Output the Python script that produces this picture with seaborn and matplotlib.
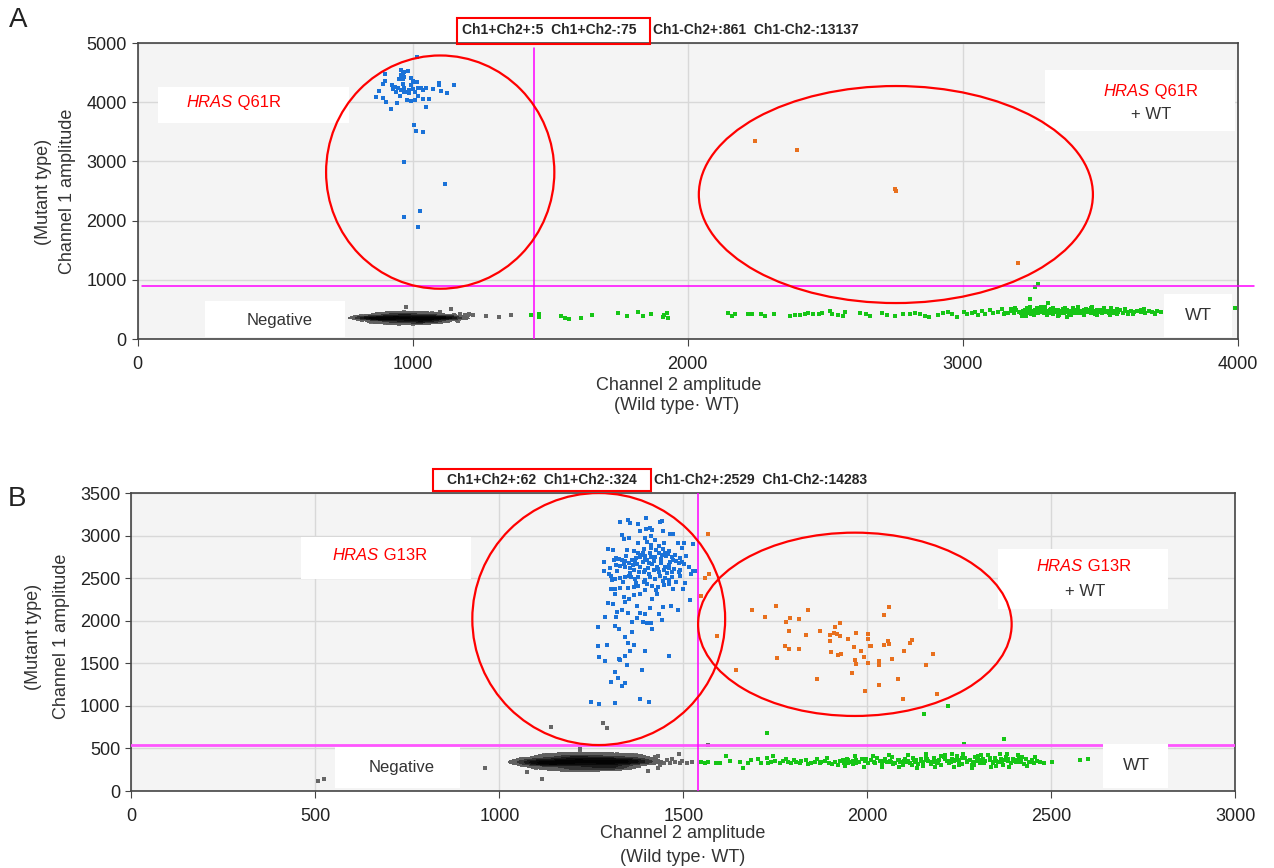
import numpy as np
import pandas as pd
import matplotlib
matplotlib.use("Agg")
import matplotlib.pyplot as plt
import seaborn as sns
from matplotlib.patches import Ellipse, Rectangle
from matplotlib.colors import LinearSegmentedColormap

sns.set_style("ticks")
plt.rcParams['font.family'] = ['Liberation Sans', 'DejaVu Sans']

# ---------------- panel A : HRAS Q61R  (channel 2 amplitude, channel 1 amplitude) ----------------
a_blue = [(1017, 4769), (958, 4544), (970, 4516), (982, 4532), (964, 4488), (900, 4471), (956, 4459),
          (970, 4431), (992, 4414), (949, 4392), (964, 4386), (1001, 4358), (1007, 4347), (1016, 4347),
          (898, 4364), (893, 4307), (924, 4291), (964, 4302), (995, 4296), (934, 4262), (946, 4246),
          (970, 4234), (928, 4223), (958, 4206), (988, 4206), (1001, 4217), (1019, 4234), (1031, 4246),
          (1049, 4246), (1073, 4217), (1097, 4319), (1094, 4291), (1149, 4291), (876, 4195), (940, 4178),
          (968, 4178), (980, 4166), (1007, 4178), (1037, 4206), (1103, 4189), (1125, 4150), (988, 4150),
          (952, 4105), (1019, 4110), (893, 4065), (865, 4082), (1007, 4037), (980, 4037), (992, 4026),
          (1037, 4054), (1061, 4048), (904, 4009), (944, 3992), (1050, 3924), (922, 3879),
          (1005, 3615), (1012, 3519), (1036, 3491), (967, 2984), (1119, 2618), (1026, 2162),
          (967, 2055), (1020, 1886)]
a_orange = [(2246, 3338), (2399, 3193), (2755, 2530), (2758, 2500), (3201, 1278)]
a_neg_core = [(905, 352), (918, 371), (931, 340), (944, 365), (957, 384), (970, 348), (983, 372),
              (996, 338), (1009, 360), (1022, 379), (1035, 345), (1048, 366), (1061, 331), (1074, 357),
              (888, 362), (876, 341), (864, 370), (852, 352), (840, 360), (829, 347), (818, 365),
              (806, 355), (897, 389), (922, 398), (948, 405), (975, 401), (1001, 396), (1027, 393),
              (1053, 388), (1080, 381), (1102, 372), (1118, 360), (1131, 349), (1144, 366), (1157, 354),
              (1168, 342), (1106, 339), (1089, 322), (1063, 311), (1037, 305), (1011, 301), (985, 306),
              (959, 309), (933, 315), (907, 322), (881, 330), (860, 324), (915, 290), (960, 283),
              (1010, 287), (1050, 296), (985, 423), (940, 430), (1040, 418), (1090, 410), (870, 400),
              (825, 385), (1125, 395), (1150, 385), (955, 330), (1000, 325), (1045, 332), (930, 358),
              (960, 362), (1015, 340), (1055, 350), (890, 345), (1095, 355),
              (900, 270), (950, 262), (1000, 258), (1050, 268), (1080, 280), (920, 445), (970, 452),
              (1020, 448), (1070, 440), (880, 430), (850, 290), (1110, 300)]
a_neg_edge = [(976, 546), (1140, 507), (1190, 406), (1203, 417), (1221, 411), (1266, 395), (1315, 378),
              (1358, 400), (1172, 430), (790, 372), (812, 392), (1130, 298), (1100, 450), (1180, 375),
              (1200, 398), (800, 340), (1160, 320), (815, 330), (835, 395), (1150, 410), (1165, 300)]
a_green = [(1430, 406), (1458, 378), (1461, 417), (1538, 395), (1554, 361), (1567, 344), (1613, 349),
           (1653, 406), (1746, 440), (1781, 389), (1821, 462), (1839, 395), (1867, 417), (1909, 378),
           (1914, 406), (1924, 445), (1930, 361), (2148, 440), (2160, 395), (2172, 417), (2221, 428),
           (2233, 428), (2266, 417), (2281, 383), (2315, 417),
           (2372, 394), (2391, 405), (2409, 405), (2427, 417), (2439, 434), (2457, 422), (2479, 417),
           (2488, 445), (2518, 473), (2524, 422), (2548, 405), (2566, 394), (2572, 450), (2627, 434),
           (2649, 417), (2663, 394), (2706, 445), (2724, 405), (2754, 394), (2784, 422), (2809, 417),
           (2827, 445), (2845, 417), (2863, 394), (2879, 377), (2912, 405), (2930, 434), (2948, 462),
           (2960, 417), (2978, 377), (3003, 450), (3015, 417), (3033, 434), (3045, 462), (3057, 405),
           (3069, 473), (3081, 417), (3100, 490), (3112, 434), (3130, 462), (3142, 500), (3154, 445),
           (3245, 676), (3309, 602), (3262, 885), (3275, 925), (3990, 518)]
a_green_dense = [(3165, 448), (3178, 470), (3186, 432), (3194, 485), (3203, 455), (3211, 440), (3219, 472),
                 (3226, 498), (3232, 451), (3240, 466), (3247, 428), (3253, 480), (3259, 459), (3266, 442),
                 (3272, 505), (3278, 470), (3284, 452), (3290, 488), (3296, 437), (3302, 463), (3308, 476),
                 (3313, 448), (3319, 495), (3324, 458), (3330, 431), (3336, 470), (3341, 483), (3347, 452),
                 (3352, 466), (3358, 440), (3363, 500), (3369, 474), (3374, 456), (3380, 489), (3385, 445),
                 (3391, 468), (3396, 478), (3402, 434), (3407, 461), (3413, 492), (3418, 450), (3424, 472),
                 (3429, 458), (3435, 441), (3440, 484), (3446, 466), (3451, 452), (3457, 497), (3462, 470),
                 (3468, 438), (3473, 459), (3479, 480), (3484, 446), (3490, 467), (3496, 455), (3502, 488),
                 (3508, 440), (3514, 471), (3520, 458), (3527, 450), (3534, 478), (3541, 462), (3548, 445),
                 (3556, 470), (3564, 455), (3573, 483), (3582, 448), (3591, 466), (3601, 458), (3612, 474),
                 (3623, 451), (3635, 469), (3648, 460), (3662, 447), (3676, 468), (3690, 456), (3705, 472),
                 (3720, 461), (3225, 462), (3238, 448), (3250, 471), (3262, 485), (3275, 445), (3287, 462),
                 (3299, 477), (3311, 440), (3322, 470), (3334, 455), (3345, 487), (3356, 460), (3367, 446),
                 (3378, 472), (3389, 457), (3400, 485), (3411, 470), (3422, 443), (3433, 463), (3444, 476),
                 (3455, 459), (3466, 449), (3477, 470), (3488, 484), (3499, 462), (3510, 452), (3521, 476),
                 (3532, 441), (3543, 482), (3555, 448), (3245, 458), (3268, 462), (3292, 450), (3315, 466),
                 (3339, 462), (3362, 456), (3386, 463), (3409, 448), (3432, 468), (3456, 463), (3479, 455),
                 (3503, 466), (3270, 522), (3320, 515), (3400, 520), (3450, 510), (3245, 540), (3480, 420),
                 (3350, 412), (3220, 418), (3600, 430), (3650, 490), (3700, 440), (3560, 505),
                 (3190, 520), (3215, 395), (3235, 530), (3260, 400), (3285, 535), (3305, 405), (3330, 525),
                 (3345, 395), (3372, 530), (3395, 405), (3420, 535), (3440, 400), (3465, 525), (3490, 410),
                 (3515, 520), (3535, 400), (3560, 415), (3590, 510), (3620, 420), (3660, 500), (3700, 415),
                 (3150, 420), (3175, 505), (3230, 385), (3300, 545), (3380, 380), (3470, 545), (3540, 530)]

# ---------------- panel B : HRAS G13R ----------------
b_blue = [(1399, 3211), (1349, 3183), (1327, 3156), (1356, 3144), (1376, 3132), (1437, 3156), (1442, 3171),
          (1410, 3093), (1383, 3054), (1399, 3073), (1444, 3054), (1416, 3066), (1464, 3015), (1471, 3015),
          (1332, 3007), (1351, 2976), (1338, 2960), (1413, 2995), (1397, 2976), (1401, 2929), (1377, 2917),
          (1424, 2948), (1446, 2909), (1413, 2889), (1433, 2882), (1485, 2909), (1503, 2917), (1526, 2905),
          (1295, 2839), (1309, 2831), (1347, 2831), (1413, 2850), (1392, 2839), (1444, 2839), (1496, 2850),
          (1284, 2694), (1311, 2713), (1320, 2721), (1326, 2729), (1333, 2713), (1342, 2702), (1360, 2713),
          (1369, 2694), (1378, 2792), (1383, 2752), (1387, 2772), (1397, 2733), (1401, 2713), (1406, 2674),
          (1410, 2792), (1413, 2745), (1419, 2705), (1433, 2792), (1442, 2772), (1449, 2792), (1452, 2760),
          (1458, 2780), (1464, 2694), (1473, 2713), (1478, 2772), (1487, 2682), (1496, 2694), (1507, 2760),
          (1503, 2666), (1514, 2635), (1317, 2655), (1329, 2643), (1342, 2635), (1351, 2674), (1356, 2615),
          (1365, 2596), (1374, 2666), (1383, 2635), (1392, 2576), (1397, 2596), (1406, 2549), (1419, 2596),
          (1428, 2635), (1433, 2576), (1446, 2596), (1451, 2635), (1460, 2615), (1469, 2576), (1487, 2576),
          (1491, 2596), (1527, 2588), (1532, 2588), (1284, 2588), (1297, 2549), (1302, 2525), (1306, 2478),
          (1315, 2486), (1329, 2498), (1342, 2518), (1351, 2525), (1359, 2510), (1369, 2486), (1378, 2518),
          (1392, 2459), (1397, 2478), (1410, 2510), (1424, 2486), (1437, 2525), (1449, 2498), (1460, 2478),
          (1469, 2518), (1491, 2525), (1521, 2549), (1304, 2369), (1315, 2369), (1329, 2381), (1350, 2381),
          (1365, 2392), (1378, 2408), (1397, 2361), (1415, 2408), (1425, 2361), (1431, 2392), (1446, 2420),
          (1460, 2431), (1473, 2369), (1499, 2369), (1505, 2447), (1315, 2310), (1338, 2283), (1351, 2251),
          (1365, 2302), (1383, 2314), (1342, 2224), (1415, 2251), (1428, 2310), (1517, 2244), (1295, 2204),
          (1309, 2193), (1374, 2173), (1410, 2146), (1444, 2165), (1467, 2173), (1485, 2126), (1320, 2107),
          (1332, 2126), (1350, 2087), (1381, 2087), (1433, 2079), (1317, 2048), (1286, 2048), (1374, 2028),
          (1397, 2079), (1360, 1989), (1390, 1981), (1401, 1977), (1413, 1977), (1442, 2009), (1313, 1938),
          (1326, 1907), (1415, 1899), (1267, 1923), (1360, 1864), (1342, 1813), (1350, 1742), (1365, 1719),
          (1293, 1711), (1267, 1703), (1397, 1641), (1356, 1641), (1342, 1586), (1324, 1547), (1328, 1535),
          (1270, 1570), (1288, 1527), (1460, 1582), (1347, 1480), (1313, 1402), (1387, 1417), (1322, 1324),
          (1302, 1280), (1333, 1233), (1341, 1269), (1383, 1085), (1406, 1049), (1248, 1046), (1272, 1018),
          (1313, 1034), (1318, 2740), (1345, 2755), (1372, 2735), (1395, 2760), (1422, 2745), (1440, 2730),
          (1468, 2748), (1490, 2740), (1338, 2668), (1362, 2650), (1389, 2690), (1415, 2662), (1440, 2680),
          (1462, 2655), (1480, 2700), (1355, 2560), (1380, 2570), (1405, 2620), (1430, 2605), (1455, 2560),
          (1475, 2610), (1320, 2580), (1335, 2455), (1370, 2440), (1400, 2430), (1445, 2470), (1480, 2450),
          (1300, 2620), (1390, 2800), (1425, 2825), (1460, 2820), (1365, 2820)]
b_orange = [(1566, 3018), (1570, 2548), (1558, 2505), (1547, 2290), (1591, 1820), (1644, 1421), (1687, 2129),
            (1722, 2047), (1752, 2169), (1840, 2129), (1791, 2035), (1815, 2020), (1778, 1985), (1787, 1883),
            (1834, 1836), (1872, 1875), (1911, 1930), (1926, 1973), (1899, 1836), (1909, 1851), (1918, 1840),
            (1926, 1820), (1946, 1785), (1970, 1851), (2003, 1844), (2003, 1781), (1898, 1757), (1775, 1703),
            (1787, 1667), (1815, 1667), (1754, 1562), (1902, 1628), (1921, 1597), (1929, 1613), (1964, 1695),
            (1983, 1648), (2006, 1703), (2011, 1703), (2046, 1718), (2057, 1757), (2059, 1726), (2046, 2067),
            (2059, 2157), (1990, 1577), (1966, 1538), (1970, 1495), (2001, 1503), (2031, 1527), (2031, 1483),
            (2066, 1550), (2100, 1640), (2117, 1738), (2122, 1777), (2177, 1613), (2159, 1480), (1863, 1311),
            (1959, 1382), (1994, 1178), (2031, 1241), (2082, 1311), (2096, 1084), (2189, 1135)]
b_neg_core = [(1150, 335), (1163, 352), (1176, 318), (1189, 345), (1202, 368), (1215, 330), (1228, 355),
              (1241, 322), (1254, 348), (1267, 365), (1280, 330), (1293, 352), (1306, 318), (1319, 343),
              (1332, 360), (1345, 328), (1137, 348), (1124, 325), (1111, 355), (1098, 338), (1085, 350),
              (1072, 330), (1060, 345), (1140, 378), (1168, 388), (1196, 395), (1224, 392), (1252, 388),
              (1280, 384), (1308, 378), (1336, 370), (1358, 352), (1372, 338), (1386, 360), (1400, 345),
              (1412, 330), (1356, 312), (1330, 300), (1302, 292), (1274, 288), (1246, 285), (1218, 290),
              (1190, 293), (1162, 300), (1134, 308), (1108, 318), (1086, 312), (1180, 268), (1230, 262),
              (1280, 268), (1320, 278), (1225, 415), (1185, 410), (1270, 408), (1320, 402), (1110, 385),
              (1075, 372), (1365, 390), (1395, 380), (1205, 318), (1250, 312), (1295, 322), (1180, 340),
              (1215, 345), (1262, 335), (1300, 340), (1130, 333), (1350, 340), (1210, 370), (1245, 370),
              (1170, 365), (1155, 315), (1315, 365),
              (1150, 255), (1200, 245), (1250, 250), (1300, 258), (1340, 270), (1170, 435), (1220, 445),
              (1270, 440), (1320, 430), (1120, 420), (1100, 275), (1370, 420)]
b_neg_edge = [(1383, 411), (1392, 364), (1401, 345), (1410, 325), (1414, 356), (1423, 395), (1432, 411),
              (1437, 305), (1446, 333), (1455, 364), (1464, 325), (1469, 372), (1478, 345), (1487, 435),
              (1491, 325), (1496, 356), (1509, 325), (1523, 345), (1405, 239), (1432, 266), (1425, 362),
              (1440, 340), (1050, 330), (1062, 300), (1058, 372), (507, 117), (524, 141), (961, 274),
              (1139, 748), (1281, 803), (1293, 740), (1568, 536), (1116, 145), (1076, 223), (1218, 489),
              (1218, 458), (1100, 290), (1120, 400), (1380, 290), (1360, 410)]
b_green = [(1548, 337), (1559, 333), (1568, 345), (1590, 333), (1599, 325), (1617, 411), (1628, 352),
           (1654, 345), (1663, 266), (1676, 325), (1685, 364), (1703, 372), (1712, 325), (1726, 384),
           (1739, 345), (1744, 411), (1762, 325), (1771, 356), (1780, 372), (1793, 333), (1807, 345),
           (1816, 325), (1834, 364), (1848, 333), (1857, 345), (1870, 325), (1884, 356), (1897, 333),
           (1911, 345), (1920, 305), (1933, 364), (1947, 333), (1960, 356), (1969, 325), (1730, 330),
           (1750, 356), (1785, 342), (1800, 368), (1820, 350), (1840, 318), (1862, 372), (1875, 340),
           (1890, 388), (1905, 322),
           (2480, 325), (2502, 337), (2578, 364), (2599, 380), (1727, 681), (2372, 611), (2262, 554),
           (2153, 904), (2218, 994)]
b_green_dense = [(1925, 352), (1936, 330), (1944, 371), (1953, 345), (1961, 318), (1970, 360), (1978, 338),
                 (1986, 380), (1994, 350), (2002, 326), (2010, 365), (2018, 342), (2026, 390), (2033, 355),
                 (2040, 312), (2047, 372), (2054, 336), (2061, 358), (2068, 400), (2075, 330), (2082, 366),
                 (2089, 346), (2096, 308), (2103, 378), (2110, 352), (2117, 333), (2124, 392), (2131, 360),
                 (2138, 322), (2145, 371), (2152, 345), (2159, 410), (2166, 356), (2173, 318), (2180, 382),
                 (2187, 340), (2194, 366), (2201, 300), (2208, 395), (2215, 352), (2222, 330), (2229, 374),
                 (2236, 348), (2243, 415), (2250, 360), (2257, 322), (2264, 388), (2271, 342), (2278, 370),
                 (2285, 305), (2292, 398), (2299, 355), (2306, 332), (2313, 378), (2320, 348), (2327, 420),
                 (2334, 362), (2341, 325), (2348, 385), (2355, 345), (2362, 372), (2369, 310), (2376, 395),
                 (2383, 352), (2390, 334), (2397, 375), (2404, 346), (2411, 390), (2418, 358), (2425, 322),
                 (2432, 372), (2439, 340), (2446, 362), (2453, 330), (2460, 352), (2468, 340), (1948, 360),
                 (1972, 340), (1996, 372), (2020, 330), (2044, 355), (2064, 345), (2086, 370), (2106, 335),
                 (2126, 360), (2146, 348), (2162, 380), (2176, 335), (2192, 352), (2210, 372), (2226, 342),
                 (2240, 362), (2256, 385), (2270, 355), (2286, 340), (2302, 370), (2318, 330), (2334, 385),
                 (2350, 358), (2366, 340), (2382, 372), (2398, 355), (2414, 335), (2430, 380), (2446, 345),
                 (2100, 350), (2130, 342), (2160, 362), (2190, 328), (2220, 358), (2250, 340), (2280, 362),
                 (2310, 350), (2340, 342), (2370, 360), (2400, 362), (2070, 320), (2200, 410), (2300, 410),
                 (2350, 295), (2150, 290), (2420, 400), (2250, 300),
                 (1940, 290), (1965, 410), (1990, 285), (2015, 415), (2040, 280), (2060, 425), (2085, 285),
                 (2110, 420), (2135, 275), (2160, 430), (2185, 280), (2210, 425), (2235, 278), (2260, 432),
                 (2285, 275), (2310, 428), (2335, 280), (2360, 430), (2385, 285), (2410, 420), (2435, 290),
                 (2455, 405), (2230, 440), (2380, 440), (2120, 300), (2290, 300)]

# thresholds and cluster gates (ellipse centre, width, height)
a_thr = (1440, 900)
b_thr = (1540, 540)
a_gates = [((1100, 2820), 830, 3940), ((2757, 2441), 1433, 3666)]
b_gates = [((1270, 2020), 687, 2960), ((1966, 1958), 852, 2153)]

BLUE, ORANGE, GREEN = '#1a72d8', '#e8701e', '#16c516'
neg_cmap = LinearSegmentedColormap.from_list('neg', ['#7a7a7a', '#3c3c3c', '#101010', '#000000'])


def scatter(ax, pts, color, s, alpha=1.0, z=3, marker='s'):
    df = pd.DataFrame(pts, columns=['ch2', 'ch1'])
    sns.scatterplot(data=df, x='ch2', y='ch1', ax=ax, color=color, s=s, marker=marker,
                    linewidth=0, alpha=alpha, zorder=z, legend=False)


def negative_cloud(ax, pts):
    df = pd.DataFrame(pts, columns=['ch2', 'ch1'])
    sns.scatterplot(data=df, x='ch2', y='ch1', ax=ax, color='#707070', s=6, marker='s',
                    linewidth=0, zorder=3, legend=False)
    sns.kdeplot(data=df, x='ch2', y='ch1', ax=ax, fill=True, levels=6, thresh=0.06,
                bw_adjust=0.75, cmap=neg_cmap, zorder=3.2)


def style_axes(ax, xmax, ymax, xstep, ystep):
    ax.set_facecolor('#f4f4f4')
    ax.set_xlim(0, xmax)
    ax.set_ylim(0, ymax)
    ax.set_xticks(np.arange(0, xmax + 1, xstep))
    ax.set_yticks(np.arange(0, ymax + 1, ystep))
    ax.grid(True, color='#d8d8d8', lw=1)
    ax.set_axisbelow(True)
    for sp in ax.spines.values():
        sp.set_visible(True)
        sp.set_color('#444444')
        sp.set_linewidth(1.2)
    ax.tick_params(axis='x', length=5, pad=7, labelsize=13, labelcolor='#222222', color='#444444')
    ax.tick_params(axis='y', length=4, pad=4, labelsize=13, labelcolor='#222222', color='#444444')
    ax.set_xlabel('')
    ax.set_ylabel('')


def box(ax, x0, y0, x1, y1):
    ax.add_patch(Rectangle((x0, y0), x1 - x0, y1 - y0, transform=ax.transAxes,
                           facecolor='white', edgecolor='none', zorder=6, clip_on=False))


def hras_label(ax, xs, y, mut):
    ax.text(xs, y, 'HRAS', transform=ax.transAxes, color='red', fontsize=12, style='italic',
            ha='right', va='center', zorder=7)
    ax.text(xs, y, ' ' + mut, transform=ax.transAxes, color='red', fontsize=12,
            ha='left', va='center', zorder=7)


fig = plt.figure(figsize=(12.74, 8.68), dpi=100)
axA = fig.add_axes([0.1081, 0.6094, 0.8634, 0.3410])
axB = fig.add_axes([0.1031, 0.0887, 0.8666, 0.3433])

# ---- panel A ----
scatter(axA, a_neg_edge, '#666666', 6)
negative_cloud(axA, a_neg_core)
scatter(axA, a_green, GREEN, 6)
scatter(axA, a_green_dense, GREEN, 12)
scatter(axA, a_blue, BLUE, 5.5)
scatter(axA, a_orange, ORANGE, 5.5)
style_axes(axA, 4000, 5000, 1000, 1000)
axA.axhline(a_thr[1], xmin=0.004, xmax=1.015, color='#ff00ff', lw=1.1, zorder=4, clip_on=False)
axA.axvline(a_thr[0], ymin=0, ymax=0.983, color='#ff00ff', lw=1.1, zorder=4)
for c, w, h in a_gates:
    axA.add_patch(Ellipse(c, w, h, fill=False, edgecolor='red', lw=1.6, zorder=8))
box(axA, 0.0185, 0.730, 0.192, 0.851)
hras_label(axA, 0.0868, 0.80, 'Q61R')
box(axA, 0.061, 0.007, 0.1885, 0.128)
axA.text(0.129, 0.064, 'Negative', transform=axA.transAxes, fontsize=12, color='#333333',
         ha='center', va='center', zorder=7)
box(axA, 0.825, 0.703, 0.998, 0.909)
hras_label(axA, 0.920, 0.838, 'Q61R')
axA.text(0.921, 0.757, '+ WT', transform=axA.transAxes, fontsize=12, color='#333333',
         ha='center', va='center', zorder=7)
box(axA, 0.933, 0.007, 0.995, 0.152)
axA.text(0.964, 0.078, 'WT', transform=axA.transAxes, fontsize=12.5, color='#333333',
         ha='center', va='center', zorder=7)

# ---- panel B ----
scatter(axB, b_neg_edge, '#666666', 6)
negative_cloud(axB, b_neg_core)
scatter(axB, b_green, GREEN, 6)
scatter(axB, b_green_dense, GREEN, 12)
scatter(axB, b_blue, BLUE, 5.5)
scatter(axB, b_orange, ORANGE, 5.5)
style_axes(axB, 3000, 3500, 500, 500)
axB.axhline(b_thr[1], color='#ff55ff', lw=2.0, zorder=4)
axB.axvline(b_thr[0], color='#ff00ff', lw=1.1, zorder=4)
for c, w, h in b_gates:
    axB.add_patch(Ellipse(c, w, h, fill=False, edgecolor='red', lw=1.6, zorder=8))
box(axB, 0.154, 0.711, 0.308, 0.852)
hras_label(axB, 0.2244, 0.792, 'G13R')
box(axB, 0.1846, 0.010, 0.2977, 0.148)
axB.text(0.2444, 0.0805, 'Negative', transform=axB.transAxes, fontsize=12, color='#333333',
         ha='center', va='center', zorder=7)
box(axB, 0.785, 0.611, 0.939, 0.812)
hras_label(axB, 0.8621, 0.752, 'G13R')
axB.text(0.864, 0.668, '+ WT', transform=axB.transAxes, fontsize=12, color='#333333',
         ha='center', va='center', zorder=7)
box(axB, 0.880, 0.010, 0.939, 0.158)
axB.text(0.9106, 0.084, 'WT', transform=axB.transAxes, fontsize=12.5, color='#333333',
         ha='center', va='center', zorder=7)

# ---- counts above the plots ----
fig.patches.append(Rectangle((0.3587, 0.9493), 0.1515, 0.030, transform=fig.transFigure,
                             fill=False, edgecolor='red', lw=1.5))
fig.text(0.3626, 0.9654, 'Ch1+Ch2+:5  Ch1+Ch2-:75', fontsize=10, weight='bold', va='center')
fig.text(0.5126, 0.9654, 'Ch1-Ch2+:861  Ch1-Ch2-:13137', fontsize=10, weight='bold', va='center')
fig.patches.append(Rectangle((0.3399, 0.4343), 0.1711, 0.0253, transform=fig.transFigure,
                             fill=False, edgecolor='red', lw=1.5))
fig.text(0.3509, 0.447, 'Ch1+Ch2+:62  Ch1+Ch2-:324', fontsize=10, weight='bold', va='center')
fig.text(0.5133, 0.447, 'Ch1-Ch2+:2529  Ch1-Ch2-:14283', fontsize=10, weight='bold', va='center')

# ---- axis titles and panel letters ----
lab = dict(fontsize=13, color='#333333', ha='center', va='center')
fig.text(43 / 1274, 1 - 192 / 868, '(Mutant type)', rotation=90, **lab)
fig.text(67 / 1274, 1 - 191 / 868, 'Channel 1 amplitude', rotation=90, **lab)
fig.text(679 / 1274, 1 - 385 / 868, 'Channel 2 amplitude', **lab)
fig.text(677 / 1274, 1 - 406 / 868, '(Wild type\u00b7 WT)', **lab)
fig.text(33 / 1274, 1 - 637 / 868, '(Mutant type)', rotation=90, **lab)
fig.text(61 / 1274, 1 - 636 / 868, 'Channel 1 amplitude', rotation=90, **lab)
fig.text(683 / 1274, 1 - 834 / 868, 'Channel 2 amplitude', **lab)
fig.text(683 / 1274, 1 - 858 / 868, '(Wild type\u00b7 WT)', **lab)
fig.text(18 / 1274, 1 - 20 / 868, 'A', fontsize=20, ha='center', va='center', color='#222222')
fig.text(17 / 1274, 1 - 499 / 868, 'B', fontsize=20, ha='center', va='center', color='#222222')

fig.savefig('out.png', dpi=100)
